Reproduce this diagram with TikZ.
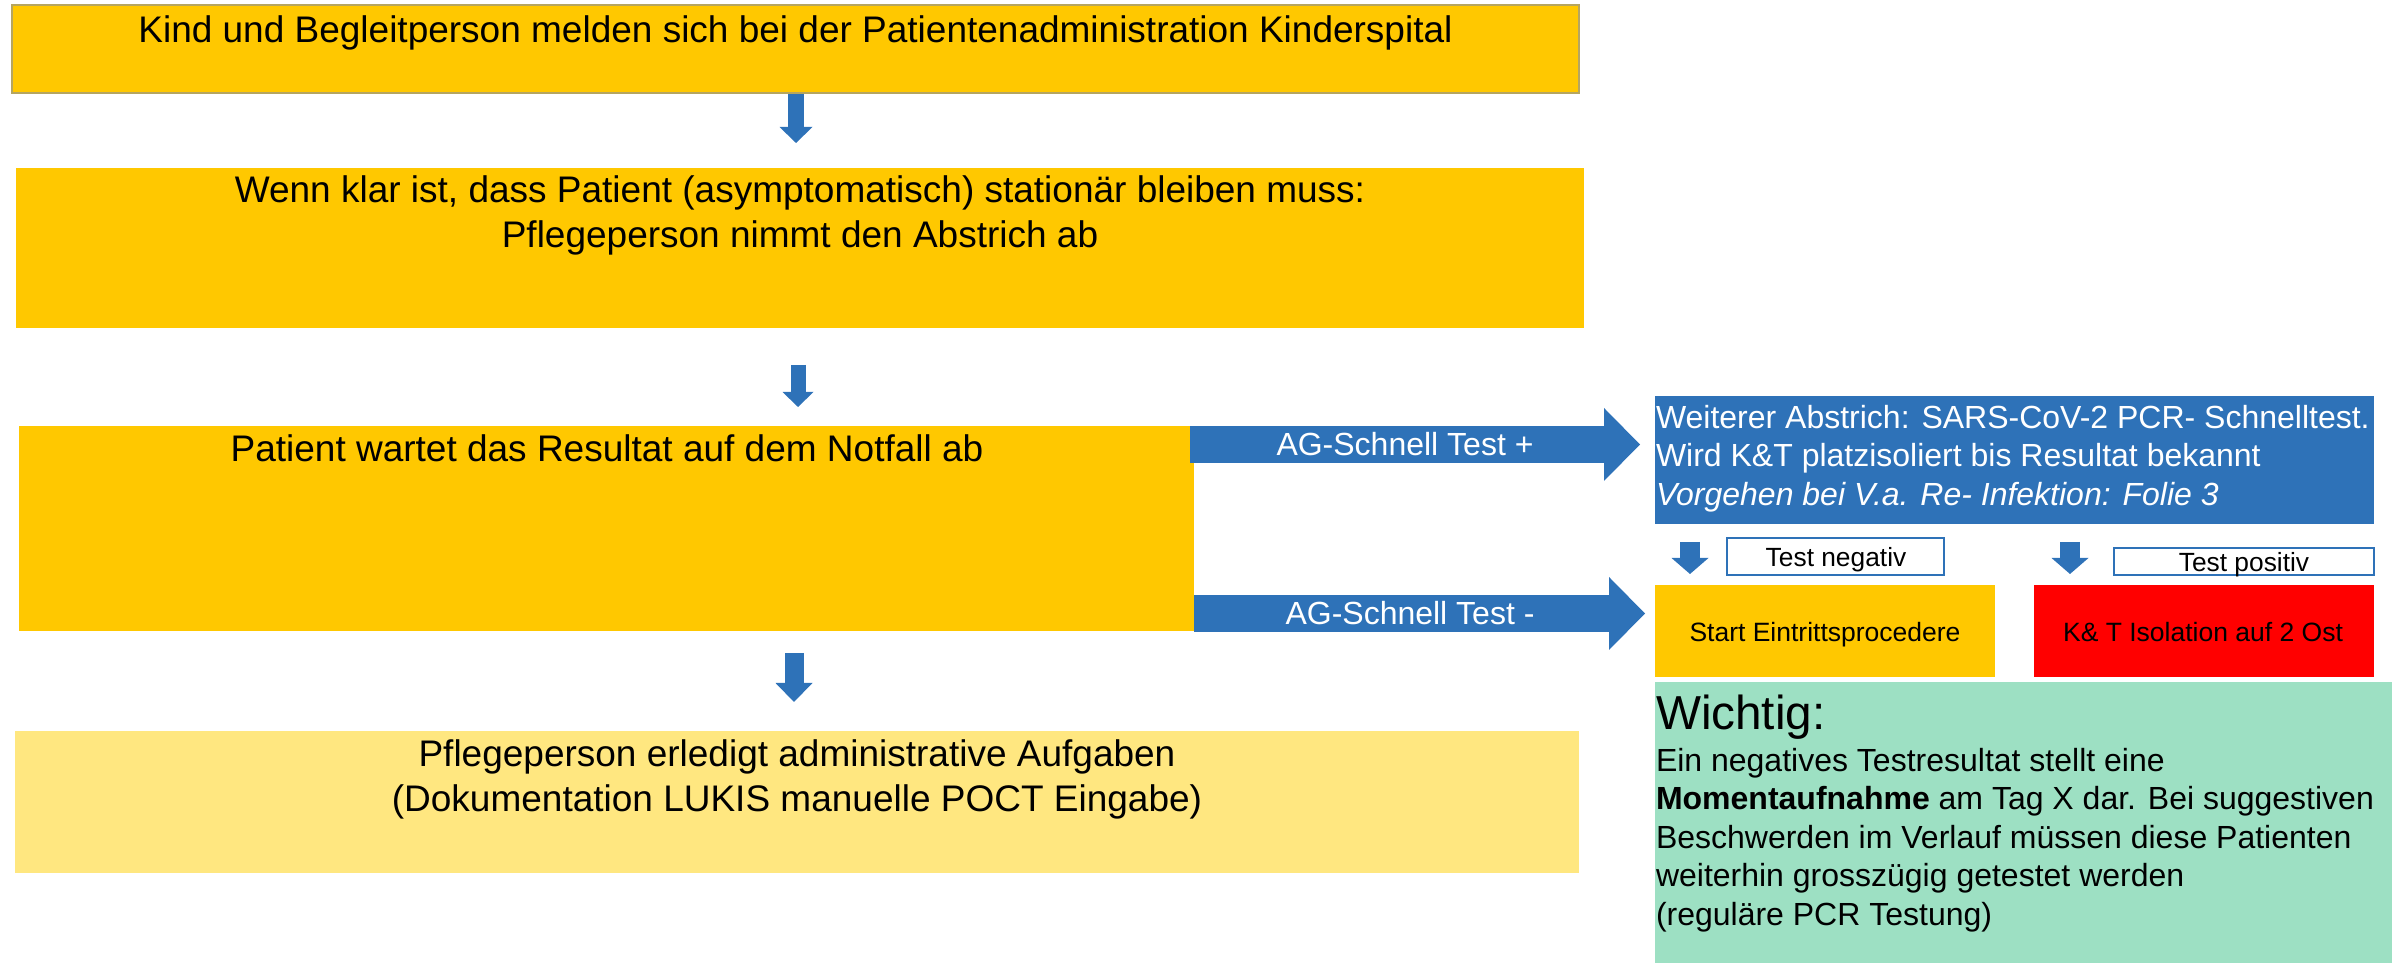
\documentclass[tikz,border=0pt]{standalone}
\usepackage{fontspec}
\setmainfont{Liberation Sans}
\usetikzlibrary{arrows.meta}
\definecolor{gold}{HTML}{FFC800}
\definecolor{lgold}{HTML}{FFE780}
\definecolor{abl}{HTML}{2E72B8}
\definecolor{mint}{HTML}{9DE0C3}
\definecolor{bred}{HTML}{FF0000}
\definecolor{bord}{HTML}{B5A560}
\newcommand\fsz[2]{\fontsize{#1}{#2}\selectfont}
\tikzset{
  fbox/.style={rectangle, inner sep=0pt, outer sep=0pt},
  txt/.style={inner sep=0pt, outer sep=0pt, text=black},
  downA/.style={abl, line width=4.8pt, -{Triangle[width=9.9pt,length=4.8pt,line width=0pt]}},
  downB/.style={abl, line width=4.5pt, -{Triangle[width=9.3pt,length=4.5pt,line width=0pt]}},
  downC/.style={abl, line width=5.7pt, -{Triangle[width=11.1pt,length=5.7pt,line width=0pt]}},
  smallarrow/.style={abl, line width=6pt, -{Triangle[width=11.1pt,length=4.8pt,line width=0pt]}},
  bigarrow/.style={abl, line width=11.1pt, -{Triangle[width=21.9pt,length=10.8pt,line width=0pt]}},
  tagbox/.style={fbox, fill=white, draw=abl, line width=0.6pt},
}
\begin{document}
\begin{tikzpicture}[x=0.3pt,y=-0.3pt]
\useasboundingbox (0,0) rectangle (2392,963);
% boxes
\node[fbox, fill=gold, draw=bord, line width=0.45pt, minimum width=470.1pt, minimum height=26.4pt] (b1) at (795.5,49) {};
\node[fbox, fill=gold, minimum width=470.4pt, minimum height=48pt] (b2) at (800,248) {};
\node[fbox, fill=gold, minimum width=352.5pt, minimum height=61.5pt] (b3) at (606.5,528.5) {};
\node[fbox, fill=lgold, minimum width=469.2pt, minimum height=42.6pt] (b4) at (797,802) {};
\node[fbox, fill=abl, minimum width=215.7pt, minimum height=38.4pt] (pcr) at (2014.5,460) {};
\node[tagbox, minimum width=65.1pt, minimum height=11.1pt] (tneg) at (1835.5,556.5) {};
\node[tagbox, minimum width=78pt, minimum height=8.1pt] (tpos) at (2244,561.5) {};
\node[fbox, fill=gold, minimum width=102pt, minimum height=27.6pt] (start) at (1825,631) {};
\node[fbox, fill=bred, minimum width=102pt, minimum height=27.6pt] (iso) at (2204,631) {};
\node[fbox, fill=mint, minimum width=221.1pt, minimum height=84.3pt] (wich) at (2023.5,822.5) {};
% texts
\node[txt, anchor=base, font=\fsz{11.1pt}{13.5pt}] (t1) at (795.5,43) {Kind und Begleitperson melden sich bei der Patientenadministration Kinderspital};
\node[txt, anchor=north, align=center, font=\fsz{11.1pt}{13.5pt}] (t2) at (800,176) {Wenn klar ist, dass Patient (asymptomatisch) stationär bleiben muss:\\Pflegeperson nimmt den Abstrich ab};
\node[txt, anchor=base, font=\fsz{11.1pt}{13.5pt}] (t3) at (607,462) {Patient wartet das Resultat auf dem Notfall ab};
\node[txt, anchor=north, align=center, font=\fsz{11.1pt}{13.5pt}] (t4) at (797,740) {Pflegeperson erledigt administrative Aufgaben\\(Dokumentation LUKIS manuelle POCT Eingabe)};
\node[txt, anchor=north west, align=left, text=white, font=\fsz{9.6pt}{11.55pt}] (t5) at (1656,405) {Weiterer Abstrich: SARS-CoV-2 PCR- Schnelltest.\\Wird K\&T platzisoliert bis Resultat bekannt\\\textit{Vorgehen bei V.a. Re- Infektion: Folie 3}};
\node[txt, anchor=base, font=\fsz{7.9pt}{9.5pt}] (t6) at (1836,567) {Test negativ};
\node[txt, anchor=base, font=\fsz{7.9pt}{9.5pt}] (t7) at (2244,572) {Test positiv};
\node[txt, anchor=base, font=\fsz{7.95pt}{9.5pt}] (t8) at (1825,642) {Start Eintrittsprocedere};
\node[txt, anchor=base, font=\fsz{7.95pt}{9.5pt}] (t9) at (2203,642) {K\& T Isolation auf 2 Ost};
\node[txt, anchor=north west, align=left, font=\fsz{9.6pt}{11.55pt}] (t10) at (1656,695) {{\fsz{14.3pt}{17pt}Wichtig:}\\[1pt]Ein negatives Testresultat stellt eine\\\textbf{Momentaufnahme} am Tag X dar. Bei suggestiven\\Beschwerden im Verlauf müssen diese Patienten\\weiterhin grosszügig getestet werden\\(reguläre PCR Testung)};
% arrow end points
\coordinate (a1s) at (796,94);
\coordinate (a1e) at (796,143);
\coordinate (a2s) at (798,365);
\coordinate (a2e) at (798,407);
\coordinate (a3s) at (794,653);
\coordinate (a3e) at (794,702);
\coordinate (ps) at (1190,444.5);
\coordinate (pe) at (1640,444.5);
\coordinate (ms) at (1194,613.5);
\coordinate (me) at (1645,613.5);
\coordinate (ns) at (1690,542);
\coordinate (ne) at (1690,574);
\coordinate (qs) at (2070,542);
\coordinate (qe) at (2070,574);
% arrows
\draw[downA] (a1s) -- (a1e);
\draw[downB] (a2s) -- (a2e);
\draw[downC] (a3s) -- (a3e);
\draw[bigarrow] (ps) -- (pe);
\draw[bigarrow] (ms) -- (me);
\draw[smallarrow] (ns) -- (ne);
\draw[smallarrow] (qs) -- (qe);
\node[txt, text=white, font=\fsz{9.6pt}{11.5pt}] (lp) at (1405,444.5) {AG-Schnell Test +};
\node[txt, text=white, font=\fsz{9.6pt}{11.5pt}] (lm) at (1410,613.5) {AG-Schnell Test -};
\end{tikzpicture}
\end{document}
